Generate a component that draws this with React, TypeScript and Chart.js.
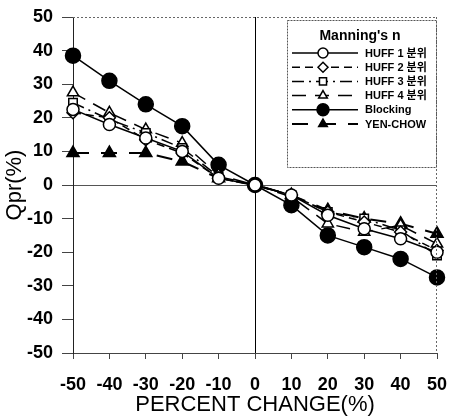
import React, { useEffect, useRef } from "react";
import { Chart, registerables } from "chart.js";

Chart.register(...registerables);

const percentChange = [-50, -40, -30, -20, -10, 0, 10, 20, 30, 40, 50];
const huff1 = [22.5, 18, 14, 10, 2, 0, -3, -9, -13, -16, -20];
const huff2 = [21.5, 20, 13.5, 9.5, 2, 0, -3, -8, -11, -14, -19.5];
const huff3 = [24.5, 19.5, 15.5, 11, 2.5, 0, -3, -8, -10, -13.5, -21];
const huff4 = [27.5, 21.5, 16.5, 12.5, 3, 0, -3.5, -11.5, -14, -12, -17.5];
const blocking = [38.5, 31, 24, 17.5, 6, 0, -6, -15, -18.5, -22, -27.5];
const yenChow = [9.5, 9.5, 9.5, 7, 2, 0, -3, -7.5, -10, -11.5, -14.5];

const legendTitle = "Manning's n";
const seriesLabels = ["HUFF 1 분위", "HUFF 2 분위", "HUFF 3 분위", "HUFF 4 분위", "Blocking", "YEN-CHOW"];
const xTitle = "PERCENT CHANGE(%)";
const yTitle = "Qpr(%)";

const FONT = "'Liberation Sans', Arial, 'Noto Sans CJK KR', sans-serif";

type Style = {
  pointStyle: string;
  radius: number;
  fill: string;
  dash: number[];
  width: number;
};

const styles: Style[] = [
  { pointStyle: "circle", radius: 6, fill: "#fff", dash: [], width: 1.5 },
  { pointStyle: "rectRot", radius: 6, fill: "#fff", dash: [8, 5], width: 1.5 },
  { pointStyle: "rect", radius: 6, fill: "#fff", dash: [12, 5, 2, 5], width: 1.5 },
  { pointStyle: "triangle", radius: 6.5, fill: "#fff", dash: [14, 9], width: 1.5 },
  { pointStyle: "circle", radius: 7.5, fill: "#000", dash: [], width: 1.5 },
  { pointStyle: "triangle", radius: 7, fill: "#000", dash: [16, 12], width: 2 },
];

const seriesValues = [huff1, huff2, huff3, huff4, blocking, yenChow];

function drawMarker(ctx: CanvasRenderingContext2D, s: Style, x: number, y: number, r: number) {
  ctx.save();
  ctx.setLineDash([]);
  ctx.fillStyle = s.fill;
  ctx.strokeStyle = "#000";
  ctx.lineWidth = 1.5;
  ctx.beginPath();
  if (s.pointStyle === "circle") {
    ctx.arc(x, y, r, 0, Math.PI * 2);
  } else if (s.pointStyle === "rect") {
    const h = r * Math.SQRT1_2;
    ctx.rect(x - h, y - h, 2 * h, 2 * h);
  } else if (s.pointStyle === "rectRot") {
    ctx.moveTo(x, y - r);
    ctx.lineTo(x + r, y);
    ctx.lineTo(x, y + r);
    ctx.lineTo(x - r, y);
    ctx.closePath();
  } else if (s.pointStyle === "triangle") {
    const a = r;
    ctx.moveTo(x, y - a);
    ctx.lineTo(x + a * 0.866, y + a * 0.5);
    ctx.lineTo(x - a * 0.866, y + a * 0.5);
    ctx.closePath();
  }
  ctx.fill();
  ctx.stroke();
  ctx.restore();
}

const framePlugin = {
  id: "frameAndLegend",
  afterDraw(chart: any) {
    const ctx: CanvasRenderingContext2D = chart.ctx;
    const { left, right, top, bottom } = chart.chartArea;
    ctx.save();
    // dotted top and right border
    ctx.strokeStyle = "#666";
    ctx.lineWidth = 1;
    ctx.setLineDash([2, 2]);
    ctx.beginPath();
    ctx.moveTo(left, top + 0.5);
    ctx.lineTo(right, top + 0.5);
    ctx.moveTo(right - 0.5, top);
    ctx.lineTo(right - 0.5, bottom);
    ctx.stroke();

    // legend box
    const bx = 287, by = 20, bw = 149, bh = 147;
    ctx.setLineDash([]);
    ctx.fillStyle = "#fff";
    ctx.fillRect(bx, by, bw, bh);
    ctx.setLineDash([2, 1]);
    ctx.strokeStyle = "#555";
    ctx.strokeRect(bx + 0.5, by + 0.5, bw, bh);
    ctx.setLineDash([]);

    ctx.fillStyle = "#000";
    ctx.font = `bold 14px ${FONT}`;
    ctx.textAlign = "center";
    ctx.textBaseline = "middle";
    ctx.fillText(legendTitle, 360, 36);

    ctx.font = `bold 11px ${FONT}`;
    ctx.textAlign = "left";
    for (let i = 0; i < seriesLabels.length; i++) {
      const s = styles[i];
      const y = 53 + i * 14.2;
      ctx.strokeStyle = "#000";
      ctx.lineWidth = s.width;
      ctx.setLineDash(s.dash);
      ctx.beginPath();
      ctx.moveTo(292, y);
      ctx.lineTo(358, y);
      ctx.stroke();
      drawMarker(ctx, s, 323, y, s.pointStyle === "circle" && s.fill === "#000" ? 6 : 5);
      ctx.fillStyle = "#000";
      ctx.fillText(seriesLabels[i], 365, y + 0.5);
    }
    ctx.restore();
  },
};

export default function App() {
  const ref = useRef<HTMLCanvasElement | null>(null);

  useEffect(() => {
    if (!ref.current) return;
    const datasets = seriesValues.map((vals, i) => {
      const s = styles[i];
      return {
        label: seriesLabels[i],
        data: percentChange.map((x, j) => ({ x, y: vals[j] })),
        borderColor: "#000",
        backgroundColor: s.fill,
        borderWidth: s.width,
        borderDash: s.dash,
        pointStyle: s.pointStyle,
        pointRadius: s.radius,
        pointBorderWidth: 1.5,
        pointBorderColor: "#000",
        pointBackgroundColor: s.fill,
        tension: 0,
        fill: false,
        clip: false,
      };
    });

    const chart = new Chart(ref.current, {
      type: "line",
      data: { datasets: datasets as any },
      plugins: [framePlugin],
      options: {
        animation: false,
        responsive: false,
        layout: { padding: { left: 0, top: 17, right: 15, bottom: 0 } },
        plugins: {
          legend: { display: false },
          tooltip: { enabled: false },
        },
        scales: {
          x: {
            type: "linear",
            min: -50,
            max: 50,
            afterFit: (scale: any) => {
              scale.height = 63;
              scale.paddingLeft = 0;
              scale.paddingRight = 0;
            },
            ticks: {
              stepSize: 10,
              color: "#000",
              padding: 15,
              font: { family: FONT, size: 18, weight: "bold" },
              maxRotation: 0,
            },
            grid: {
              color: (ctx: any) => (ctx.tick && ctx.tick.value === 0 ? "#000" : "rgba(0,0,0,0)"),
              tickColor: "#444",
              tickLength: 6,
              lineWidth: 1,
            },
            border: { display: true, color: "#444", width: 1 },
            title: {
              display: true,
              text: xTitle,
              color: "#000",
              font: { family: FONT, size: 22, lineHeight: 1 },
              padding: { top: 0, bottom: 0 },
            },
          },
          y: {
            type: "linear",
            min: -50,
            max: 50,
            afterFit: (scale: any) => {
              scale.width = 73;
              scale.paddingTop = 0;
              scale.paddingBottom = 0;
            },
            ticks: {
              stepSize: 10,
              color: "#000",
              padding: 9,
              font: { family: FONT, size: 18, weight: "bold" },
            },
            grid: {
              color: (ctx: any) => (ctx.tick && ctx.tick.value === 0 ? "#555" : "rgba(0,0,0,0)"),
              tickColor: "#444",
              tickLength: 11,
              lineWidth: 1,
            },
            border: { display: true, color: "#222", width: 1 },
            title: {
              display: true,
              text: yTitle,
              color: "#000",
              font: { family: FONT, size: 22, lineHeight: 1 },
              padding: { top: 4, bottom: 0 },
            },
          },
        },
      },
    });
    return () => chart.destroy();
  }, []);

  return (
    <div style={{ position: "absolute", left: 0, top: 0, width: 452, height: 416, background: "#fff" }}>
      <canvas ref={ref} width={452} height={416} style={{ display: "block", width: 452, height: 416 }} />
    </div>
  );
}
